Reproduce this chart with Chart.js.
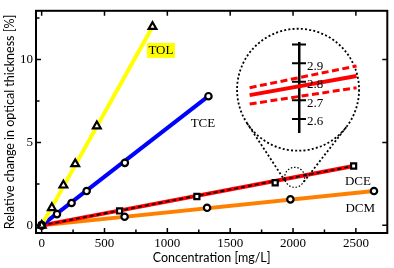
<!DOCTYPE html>
<html><head><meta charset="utf-8">
<script src="https://cdn.jsdelivr.net/npm/chart.js@4/dist/chart.umd.min.js"></script>
<style>
html,body{margin:0;padding:0;background:#fff;}
#wrap{position:relative;width:394px;height:268px;overflow:hidden;}
#main{position:absolute;left:0;top:0;}
#inset{position:absolute;left:245px;top:42px;}
</style></head><body>
<div id="wrap"><canvas id="main" width="394" height="268"></canvas><canvas id="inset" width="118" height="91"></canvas></div>
<script>
// ---- data ----
const tolX = [0, 81, 173, 267, 439, 882];
const tolY = [0, 1.06, 2.42, 3.71, 5.99, 11.98];
const tolFitX = [0, 882];
const tolFitY = [0, 11.98];

const tceX = [0, 122, 238, 358, 662, 1327];
const tceY = [0, 0.68, 1.35, 2.07, 3.77, 7.79];
const tceFitX = [0, 1327];
const tceFitY = [0, 7.79];

const dceX = [0, 620, 1235, 1858, 2482];
const dceY = [0, 0.87, 1.74, 2.57, 3.58];
const dceFitX = [0, 2482];
const dceFitY = [0, 3.58];

const dcmX = [0, 660, 1316, 1979, 2644];
const dcmY = [0, 0.52, 1.06, 1.57, 2.07];
const dcmFitX = [0, 2644];
const dcmFitY = [0, 2.07];

const xTicks = [0, 500, 1000, 1500, 2000, 2500];
const xTickLabels = ['0', '500', '1000', '1500', '2000', '2500'];
const xMinorTicks = [250, 750, 1250, 1750, 2250];
const yTicks = [0, 5, 10];
const yTickLabels = ['0', '5', '10'];
const yMinorTicks = [2.5, 7.5, 12.5];

const seriesNames = ['TOL', 'TCE', 'DCE', 'DCM'];

// inset (magnified view)
const insetX = [1977, 2055];
const insetFit = [2.728, 2.831];
const insetUpper = [2.768, 2.885];
const insetLower = [2.680, 2.768];
const insetTicks = [2.6, 2.7, 2.8, 2.9, 3.0];
const insetTickLabels = ['2.6', '2.7', '2.8', '2.9', ''];
const insetAxisX = 2013;

// ---- layout / style settings ----
const SERIF = "'Liberation Serif', 'Times New Roman', serif";
const SANS = "Lato, 'Liberation Sans', sans-serif";
const labelAnchors = [ // data-space anchors for series name labels
  {x: 949, y: 10.55, bg: '#ffff00'},
  {x: 1283, y: 6.15},
  {x: 2516, y: 2.70},
  {x: 2535, y: 1.045}
];
const zoomSpot = {x: 2013, y: 2.90, r: 10};
const zoomCircle = {x: 2040, y: 8.18, r: 61};

const pts = (xs, ys) => xs.map((x, i) => ({x, y: ys[i]}));

function fitLine(xs, ys, color, order, extra) {
  return Object.assign({data: pts(xs, ys), showLine: true, borderColor: color, borderWidth: 4,
    pointRadius: 0, order: order, borderCapStyle: 'butt'}, extra || {});
}
function markers(xs, ys, style, r) {
  return {data: pts(xs, ys), showLine: false, pointStyle: style, pointRadius: r,
    pointBorderColor: '#000', pointBackgroundColor: '#fff', pointBorderWidth: 2.2, order: 0};
}

const frameTicks = {
  id: 'frameTicks',
  afterDraw(chart) {
    const {ctx, chartArea: a, scales: {x, y}} = chart;
    ctx.save();
    ctx.strokeStyle = '#000';
    ctx.lineWidth = 2;
    ctx.strokeRect(a.left, a.top, a.right - a.left, a.bottom - a.top);
    ctx.lineWidth = 1.5;
    ctx.beginPath();
    const major = 5, minor = 3.5;
    xTicks.forEach(v => { const p = x.getPixelForValue(v);
      ctx.moveTo(p, a.bottom); ctx.lineTo(p, a.bottom - major);
      ctx.moveTo(p, a.top); ctx.lineTo(p, a.top + major); });
    xMinorTicks.forEach(v => { const p = x.getPixelForValue(v);
      ctx.moveTo(p, a.bottom); ctx.lineTo(p, a.bottom - minor); });
    yTicks.forEach(v => { const p = y.getPixelForValue(v);
      ctx.moveTo(a.left, p); ctx.lineTo(a.left + major, p);
      ctx.moveTo(a.right, p); ctx.lineTo(a.right - major, p); });
    yMinorTicks.forEach(v => { const p = y.getPixelForValue(v);
      ctx.moveTo(a.left, p); ctx.lineTo(a.left + minor, p); });
    ctx.stroke();

    // zoom decoration: small circle, big circle, tangents
    const c2 = {x: x.getPixelForValue(zoomSpot.x), y: y.getPixelForValue(zoomSpot.y), r: zoomSpot.r};
    const c1 = {x: x.getPixelForValue(zoomCircle.x), y: y.getPixelForValue(zoomCircle.y), r: zoomCircle.r};
    ctx.setLineDash([2, 2.2]);
    ctx.lineWidth = 1.8;
    ctx.beginPath(); ctx.arc(c1.x, c1.y, c1.r, 0, Math.PI * 2); ctx.stroke();
    ctx.lineWidth = 1.2;
    ctx.setLineDash([1.5, 1.8]);
    ctx.beginPath(); ctx.arc(c2.x, c2.y, c2.r, 0, Math.PI * 2); ctx.stroke();
    const d = Math.hypot(c2.x - c1.x, c2.y - c1.y);
    const phi = Math.atan2(c2.y - c1.y, c2.x - c1.x);
    const al = Math.acos((c1.r - c2.r) / d);
    ctx.lineWidth = 1.8;
    ctx.setLineDash([2, 2.2]);
    [phi + al, phi - al].forEach(t => {
      ctx.beginPath();
      ctx.moveTo(c1.x + c1.r * Math.cos(t), c1.y + c1.r * Math.sin(t));
      ctx.lineTo(c2.x + c2.r * Math.cos(t), c2.y + c2.r * Math.sin(t));
      ctx.stroke();
    });
    ctx.setLineDash([]);

    // series name labels
    ctx.font = '13px ' + SERIF;
    ctx.textAlign = 'center';
    ctx.textBaseline = 'middle';
    labelAnchors.forEach((l, i) => {
      const px = x.getPixelForValue(l.x), py = y.getPixelForValue(l.y);
      const w = ctx.measureText(seriesNames[i]).width;
      if (l.bg) { ctx.fillStyle = l.bg; ctx.fillRect(px - w / 2 - 1.5, py - 7.5, w + 3, 15); }
      ctx.fillStyle = '#000';
      ctx.fillText(seriesNames[i], px, py + 0.5);
    });
    ctx.restore();
  }
};

new Chart(document.getElementById('main'), {
  type: 'scatter',
  data: {datasets: [
    fitLine(tolFitX, tolFitY, '#ffff00', 5),
    fitLine(tceFitX, tceFitY, '#0000ff', 5),
    fitLine(dceFitX, dceFitY, '#ff0000', 5),
    fitLine(dceFitX, dceFitY, '#000000', 4, {borderWidth: 1.6, borderDash: [4, 3]}),
    fitLine(dcmFitX, dcmFitY, '#ff8000', 5),
    markers(tolX, tolY, 'triangle', 4.5),
    markers(tceX, tceY, 'circle', 3.2),
    markers(dceX, dceY, 'rect', 3.6),
    markers(dcmX, dcmY, 'circle', 3.2)
  ]},
  options: {
    responsive: false, animation: false,
    layout: {padding: {top: 2, right: 2, left: 0, bottom: 0}},
    plugins: {legend: {display: false}, tooltip: {enabled: false}},
    scales: {
      x: {type: 'linear', min: -45, max: 2750,
        afterBuildTicks: s => { s.ticks = xTicks.map(v => ({value: v})); },
        afterFit: s => { s.height = 35; },
        ticks: {callback: (v, i) => xTickLabels[i], font: {family: SERIF, size: 13}, color: '#000', padding: 3, maxRotation: 0, autoSkip: false},
        grid: {display: false, drawTicks: false}, border: {display: false},
        title: {display: true, text: 'Concentration [mg/L]', font: {family: SANS, size: 12.5}, color: '#000', padding: {top: 0, bottom: 3}}
      },
      y: {type: 'linear', min: -0.46, max: 12.94,
        afterBuildTicks: s => { s.ticks = yTicks.map(v => ({value: v})); },
        afterFit: s => { s.width = 36; },
        ticks: {callback: (v, i) => yTickLabels[i], font: {family: SERIF, size: 13}, color: '#000', padding: 3, autoSkip: false},
        grid: {display: false, drawTicks: false}, border: {display: false},
        title: {display: true, text: 'Relative change in optical thickness [%]', font: {family: SANS, size: 12.5}, color: '#000', padding: {top: 2, bottom: 0}}
      }
    }
  },
  plugins: [frameTicks]
});

const insetTicksPlugin = {
  id: 'insetTicks',
  afterDraw(chart) {
    const {ctx, scales: {x, y}} = chart;
    const ax = x.getPixelForValue(insetAxisX);
    ctx.save();
    ctx.strokeStyle = '#000';
    ctx.lineWidth = 2;
    ctx.beginPath();
    insetTicks.forEach(v => { const p = y.getPixelForValue(v); ctx.moveTo(ax - 7, p); ctx.lineTo(ax + 7, p); });
    ctx.stroke();
    ctx.fillStyle = '#000';
    ctx.font = '13px ' + SERIF;
    ctx.textAlign = 'left';
    ctx.textBaseline = 'middle';
    y.ticks.forEach((t, i) => {
      const p = y.getPixelForValue(t.value);
      ctx.fillText(insetTickLabels[i], ax + 8, p + 3);
    });
    ctx.restore();
  }
};

new Chart(document.getElementById('inset'), {
  type: 'scatter',
  data: {datasets: [
    {data: pts(insetX, insetFit), showLine: true, borderColor: '#ff0000', borderWidth: 4, pointRadius: 0},
    {data: pts(insetX, insetUpper), showLine: true, borderColor: '#ff0000', borderWidth: 3, pointRadius: 0, borderDash: [7, 3.5]},
    {data: pts(insetX, insetLower), showLine: true, borderColor: '#ff0000', borderWidth: 3, pointRadius: 0, borderDash: [7, 3.5]}
  ]},
  options: {
    responsive: false, animation: false,
    layout: {padding: 0},
    plugins: {legend: {display: false}, tooltip: {enabled: false}},
    scales: {
      x: {type: 'linear', display: false, min: 1973.6, max: 2059.7},
      y: {type: 'linear', position: {x: insetAxisX}, min: 2.524, max: 3.014,
        afterBuildTicks: s => { s.ticks = insetTicks.map(v => ({value: v})); },
        ticks: {display: false},
        grid: {display: false, drawTicks: false},
        border: {display: true, color: '#000', width: 2.5}
      }
    }
  },
  plugins: [insetTicksPlugin]
});
</script>
</body></html>
